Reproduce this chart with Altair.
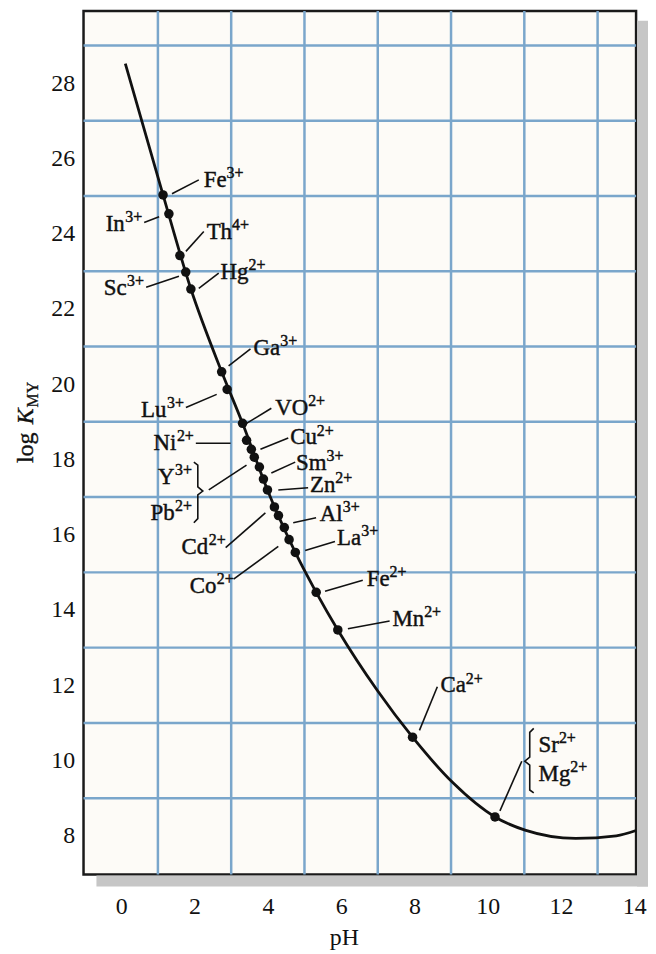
import altair as alt
import pandas as pd

SERIF = "Liberation Serif"
INK = "#111111"
GRID_BLUE = "#7aa6cb"

# ---- axes ----
X_DOMAIN = [-1.03, 14.05]
Y_DOMAIN = [6.97, 29.92]
x_tick_values = [0, 2, 4, 6, 8, 10, 12, 14]
y_tick_values = [8, 10, 12, 14, 16, 18, 20, 22, 24, 26, 28]
grid_ph = [1, 3, 5, 7, 9, 11, 13]
grid_logk = [9, 11, 13, 15, 17, 19, 21, 23, 25, 27, 29]

# ---- minimum-pH curve ----
curve_ph = [0.11, 1.14, 1.90, 2.74, 3.31, 3.99, 4.75, 5.32, 5.91, 6.99, 7.95,
            9.06, 10.20, 11.02, 12.40, 13.51, 14.05]
curve_logk = [28.52, 25.03, 22.53, 20.33, 18.96, 17.19, 15.53, 14.47, 13.47, 11.86,
              10.62, 9.40, 8.50, 8.15, 7.93, 8.00, 8.14]

# ---- metal-ion points ----
dot_ph = [1.14, 1.30, 1.60, 1.76, 1.90, 2.74, 2.89, 3.31, 3.42, 3.55, 3.63, 3.77,
          3.88, 3.99, 4.18, 4.29, 4.45, 4.58, 4.75, 5.32, 5.91, 7.95, 10.20]
dot_logk = [25.03, 24.53, 23.42, 22.98, 22.53, 20.33, 19.86, 18.96, 18.51, 18.27,
            18.06, 17.80, 17.48, 17.19, 16.74, 16.51, 16.19, 15.87, 15.53, 14.47,
            13.47, 10.62, 8.50]

# ---- ion labels (element + charge) ----
ion_base = ["Fe", "In", "Th", "Sc", "Hg", "Ga", "Lu", "VO", "Ni", "Cu", "Y", "Pb",
            "Sm", "Zn", "Cd", "Al", "La", "Co", "Fe", "Mn", "Ca", "Sr", "Mg"]
ion_charge = ["3+", "3+", "4+", "3+", "2+", "3+", "3+", "2+", "2+", "2+", "3+", "2+",
              "3+", "2+", "2+", "3+", "3+", "2+", "2+", "2+", "2+", "2+", "2+"]
label_ph = [2.25, 0.57, 2.33, 0.62, 2.71, 3.61, 1.71, 4.20, 1.98, 4.61, 1.93, 1.93,
            4.77, 5.15, 2.85, 5.42, 5.89, 3.07, 6.70, 7.40, 8.71, 11.39, 11.39]
label_logk = [25.46, 24.28, 24.06, 22.59, 23.00, 20.98, 19.33, 19.40, 18.47, 18.61,
              17.56, 16.61, 17.93, 17.35, 15.71, 16.58, 15.94, 14.66, 14.84, 13.79,
              12.02, 10.43, 9.67]
label_side = ["left", "right", "left", "right", "left", "left", "right", "left",
              "right", "left", "right", "right", "left", "left", "right", "left",
              "left", "right", "left", "left", "left", "left", "left"]

# ---- leader lines ----
leader_ph_start = [1.384, 0.625, 1.764, 0.679, 2.116, 2.930, 1.764, 3.418, 2.035,
                   3.798, 2.388, 4.096, 4.286, 2.849, 4.693, 5.019, 3.066, 5.561,
                   6.185, 8.138, 10.334]
leader_logk_start = [25.06, 24.30, 23.53, 22.58, 22.55, 20.49, 19.38, 18.96, 18.43,
                     18.27, 17.19, 17.64, 17.19, 15.66, 16.32, 15.58, 14.82, 14.50,
                     13.50, 10.80, 8.66]
leader_ph_end = [2.116, 1.032, 2.252, 1.574, 2.659, 3.527, 2.605, 4.096, 2.984,
                 4.557, 3.418, 4.747, 5.100, 3.933, 5.317, 5.832, 4.286, 6.591,
                 7.324, 8.626, 10.931]
leader_logk_end = [25.43, 24.45, 24.06, 22.87, 22.95, 20.94, 19.73, 19.36, 18.43,
                   18.57, 17.85, 17.93, 17.25, 16.58, 16.45, 15.82, 15.69, 14.79,
                   13.71, 11.96, 9.98]

# ---- grouping braces (Y/Pb and Sr/Mg) ----
brace_id = ["YPb"] * 7 + ["SrMg"] * 7
brace_ph = [1.981, 2.089, 2.089, 2.225, 2.089, 2.089, 1.981,
            11.257, 11.148, 11.148, 11.013, 11.148, 11.148, 11.257]
brace_logk = [17.93, 17.85, 17.27, 17.16, 17.06, 16.43, 16.32,
              10.855, 10.749, 10.089, 9.983, 9.877, 9.217, 9.138]

W, H = 556, 869
BASE_FS, SUP_FS = 23, 16
PH_PER_PX = (X_DOMAIN[1] - X_DOMAIN[0]) / W

# Times-metric advance widths (per 1000 em) used to place superscripts
ADV = {"F": 556, "e": 444, "I": 333, "n": 500, "T": 611, "h": 500, "S": 556,
       "c": 444, "H": 722, "g": 500, "G": 722, "a": 444, "L": 611, "u": 500,
       "V": 722, "O": 722, "N": 722, "i": 278, "C": 667, "Y": 722, "P": 556,
       "b": 500, "m": 778, "Z": 611, "d": 500, "A": 722, "l": 278, "o": 500,
       "M": 889, "r": 333, "+": 564, "2": 500, "3": 500, "4": 500}


def text_w(s, fs):
    return sum(ADV.get(ch, 500) for ch in s) / 1000.0 * fs


base_rows, sup_rows = [], []
for b, c, px, ky, side in zip(ion_base, ion_charge, label_ph, label_logk, label_side):
    if side == "left":
        base_rows.append({"t": b, "ph": px, "logk": ky, "side": "left"})
        sup_rows.append({"t": c, "ph": px + text_w(b, BASE_FS) * PH_PER_PX,
                         "logk": ky, "side": "left"})
    else:
        sup_rows.append({"t": c, "ph": px, "logk": ky, "side": "right"})
        base_rows.append({"t": b, "ph": px - (text_w(c, SUP_FS) + 0.5) * PH_PER_PX,
                          "logk": ky, "side": "right"})
base_df = pd.DataFrame(base_rows)
sup_df = pd.DataFrame(sup_rows)

curve_df = pd.DataFrame({"ph": curve_ph, "logk": curve_logk})
dots_df = pd.DataFrame({"ph": dot_ph, "logk": dot_logk})
leaders_df = pd.DataFrame({"ph": leader_ph_start, "logk": leader_logk_start,
                           "ph2": leader_ph_end, "logk2": leader_logk_end})
braces_df = pd.DataFrame({"brace": brace_id, "ph": brace_ph, "logk": brace_logk,
                          "order": list(range(len(brace_id)))})
gx_df = pd.DataFrame({"ph": grid_ph})
gy_df = pd.DataFrame({"logk": grid_logk})
one = pd.DataFrame({"a": [0]})

xscale = alt.Scale(domain=X_DOMAIN, nice=False, zero=False)
yscale = alt.Scale(domain=Y_DOMAIN, nice=False, zero=False)
xaxis = alt.Axis(values=x_tick_values, grid=False, ticks=False, domain=False,
                 labelFont=SERIF, labelFontSize=24, labelColor=INK, labelPadding=20,
                 titleFont=SERIF, titleFontSize=24, titleFontWeight="normal",
                 titleColor=INK, titleX=262, titleY=70, titleBaseline="alphabetic",
                 format="d")
yaxis = alt.Axis(values=y_tick_values, grid=False, ticks=False, domain=False,
                 labelFont=SERIF, labelFontSize=24, labelColor=INK, labelPadding=9,
                 format="d")


def X(f):
    return alt.X(f"{f}:Q", scale=xscale, axis=xaxis, title="pH")


def Y(f):
    return alt.Y(f"{f}:Q", scale=yscale, axis=yaxis, title=None)


shadow_right = alt.Chart(one).mark_rect(color="#c6c6c6").encode(
    x=alt.value(W + 1), x2=alt.value(W + 12), y=alt.value(10), y2=alt.value(H + 12))
shadow_bottom = alt.Chart(one).mark_rect(color="#c6c6c6").encode(
    x=alt.value(13), x2=alt.value(W + 12), y=alt.value(H + 1), y2=alt.value(H + 12))

grid_v = alt.Chart(gx_df).mark_rule(color=GRID_BLUE, strokeWidth=2.5).encode(x=X("ph"))
grid_h = alt.Chart(gy_df).mark_rule(color=GRID_BLUE, strokeWidth=2.5).encode(y=Y("logk"))

curve = alt.Chart(curve_df).mark_line(color=INK, strokeWidth=2.8,
                                      interpolate="monotone").encode(
    x=X("ph"), y=Y("logk"), order="ph:Q")

leaders = alt.Chart(leaders_df).mark_rule(color=INK, strokeWidth=1.6).encode(
    x=X("ph"), y=Y("logk"), x2=alt.X2("ph2"), y2=alt.Y2("logk2"))

braces = alt.Chart(braces_df).mark_line(color=INK, strokeWidth=1.6).encode(
    x=X("ph"), y=Y("logk"), detail="brace:N", order="order:Q")

dots = alt.Chart(dots_df).mark_circle(color=INK, opacity=1, size=92).encode(
    x=X("ph"), y=Y("logk"))


def text_layer(df, side, fs, dy):
    return alt.Chart(df).transform_filter(alt.datum.side == side).mark_text(
        align=side, baseline="middle", font=SERIF, fontSize=fs, color=INK, dy=dy,
        stroke=INK, strokeWidth=0.45
    ).encode(x=X("ph"), y=Y("logk"), text="t:N")


base_left = text_layer(base_df, "left", BASE_FS, 1)
base_right = text_layer(base_df, "right", BASE_FS, 1)
sup_left = text_layer(sup_df, "left", SUP_FS, -6)
sup_right = text_layer(sup_df, "right", SUP_FS, -6)

ytitle_log = alt.Chart(one).mark_text(angle=270, align="left", baseline="alphabetic",
                                      font=SERIF, fontSize=24, color=INK, text="log",
                                      stroke=INK, strokeWidth=0.4).encode(
    x=alt.value(-51), y=alt.value(455))
ytitle_k = alt.Chart(one).mark_text(angle=270, align="left", baseline="alphabetic",
                                    font=SERIF, fontSize=24, fontStyle="italic",
                                    color=INK, text="K", stroke=INK,
                                    strokeWidth=0.4).encode(
    x=alt.value(-51), y=alt.value(416))
ytitle_sub = alt.Chart(one).mark_text(angle=270, align="left", baseline="alphabetic",
                                      font=SERIF, fontSize=16, color=INK, text="MY",
                                      stroke=INK, strokeWidth=0.3).encode(
    x=alt.value(-46), y=alt.value(399))

chart = alt.layer(
    shadow_right, shadow_bottom, grid_v, grid_h, curve, leaders, braces, dots,
    base_left, base_right, sup_left, sup_right, ytitle_log, ytitle_k, ytitle_sub
).properties(
    width=W, height=H,
    autosize=alt.AutoSizeParams(type="none"),
    padding={"left": 76, "top": 0, "right": 12, "bottom": 75},
    background="white",
).configure_view(stroke="#1a1a1a", strokeWidth=2.5, fill="#fdfbf7")

chart.save("out.html", embed_options={"renderer": "svg", "actions": False})
